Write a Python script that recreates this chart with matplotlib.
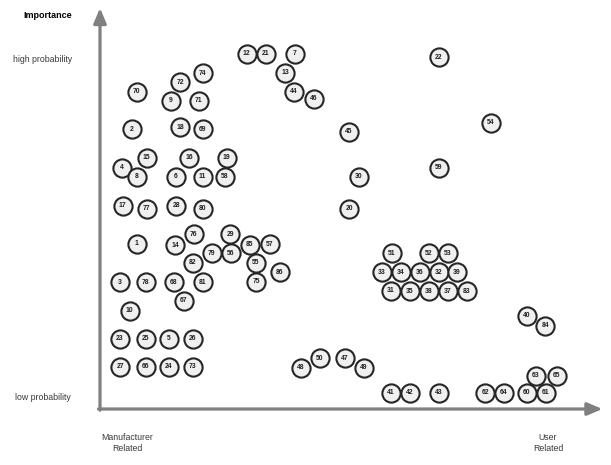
#!/usr/bin/env python3
import matplotlib
matplotlib.use("Agg")
import matplotlib.pyplot as plt

# Issue id -> position (x: manufacturer 0 .. user ~100, y: low 0 .. high ~100)
IDS = list(range(1, 87))
X_POS = [
    7.3, 6.3, 4.0, 4.3, 13.7, 15.2, 39.0, 7.3, 14.1, 5.9,
    20.5, 29.3, 37.0, 15.0, 9.3, 17.8, 4.5, 16.0, 25.3, 49.8,
    33.1, 67.7, 4.0, 13.7, 9.1, 18.5, 4.0, 15.2, 26.0, 51.7,
    58.2, 67.7, 56.3, 60.1, 62.0, 63.9, 69.5, 65.8, 71.3, 85.3,
    58.2, 62.0, 67.7, 38.8, 49.8, 42.7, 49.0, 40.2, 52.8, 44.0,
    58.3, 65.8, 69.5, 78.2, 31.2, 26.1, 34.0, 25.0, 67.7, 85.3,
    89.1, 77.0, 87.2, 80.7, 91.3, 9.1, 16.7, 14.8, 20.5, 7.3,
    19.7, 16.0, 18.5, 20.5, 31.2, 18.7, 9.3, 9.1, 22.3, 20.5,
    20.5, 18.5, 73.3, 89.0, 29.9, 36.0,
]
Y_POS = [
    41.3, 69.9, 31.7, 60.3, 17.5, 58.1, 88.8, 58.1, 77.0, 24.5,
    58.1, 88.8, 84.1, 41.0, 62.8, 62.8, 50.8, 70.4, 62.8, 50.0,
    88.8, 87.9, 17.5, 10.6, 17.5, 17.5, 10.6, 50.8, 43.7, 58.1,
    29.5, 34.2, 34.2, 34.2, 29.4, 34.2, 29.4, 29.4, 34.2, 23.3,
    4.1, 4.1, 4.1, 79.3, 69.3, 77.5, 12.7, 10.3, 10.3, 12.7,
    38.9, 38.9, 38.9, 71.6, 36.6, 38.9, 41.2, 58.1, 60.3, 4.1,
    4.1, 4.1, 8.3, 4.1, 8.3, 10.6, 27.0, 31.7, 69.9, 79.3,
    77.0, 81.7, 10.6, 83.9, 31.8, 43.7, 50.0, 31.7, 38.9, 50.0,
    31.7, 36.6, 29.4, 20.8, 41.1, 34.2,
]

Y_LABELS = ["low probability", "high probability"]
Y_LABEL_POS = [3.0, 87.5]
X_LABELS = ["Manufacturer\nRelated", "User\nRelated"]
X_LABEL_POS = [5.4, 89.6]

AXIS_GRAY = "#808080"

plt.rcParams["font.family"] = ["Liberation Sans", "DejaVu Sans"]

fig = plt.figure(figsize=(6.11, 4.65), dpi=100)
ax = fig.add_axes([100 / 611, 56 / 465, 505 / 611, 401 / 465])
ax.set_xlim(0, 101)
ax.set_ylim(0, 100.25)
for side in ax.spines.values():
    side.set_visible(False)
ax.set_xticks([])
ax.set_yticks([])

# axes drawn as arrows
arrow = dict(arrowstyle="-|>,head_length=0.9,head_width=0.38", color=AXIS_GRAY,
             lw=2.3, shrinkA=0, shrinkB=0)
ax.annotate("", xy=(0, 1), xytext=(0, -0.003), xycoords="axes fraction",
            arrowprops=arrow, annotation_clip=False)
ax.annotate("", xy=(0.995, 0), xytext=(-0.003, 0), xycoords="axes fraction",
            arrowprops=arrow, annotation_clip=False)

ax.scatter(X_POS, Y_POS, s=172, facecolor="#f0f0f0", edgecolor="#262626",
           linewidth=1.5, zorder=3, clip_on=False)
for num, x, y in zip(IDS, X_POS, Y_POS):
    ax.text(x, y, str(num), ha="center", va="center", fontsize=4.9,
            color="#1e1e1e", weight="bold", zorder=4)

for lab, y in zip(Y_LABELS, Y_LABEL_POS):
    ax.text(-0.113, y, lab, transform=ax.get_yaxis_transform(), ha="center",
            va="center", fontsize=6.3, color="#3a3a3a")
for lab, x in zip(X_LABELS, X_LABEL_POS):
    ax.text(x, -0.085, lab, transform=ax.get_xaxis_transform(), ha="center",
            va="center", fontsize=6.3, color="#3a3a3a", linespacing=1.3)

fig.text(48 / 611, 1 - 15 / 465, "Importance", ha="center", va="center",
         fontsize=6.5, color="black", weight="bold")

fig.savefig("out.png", dpi=100)
